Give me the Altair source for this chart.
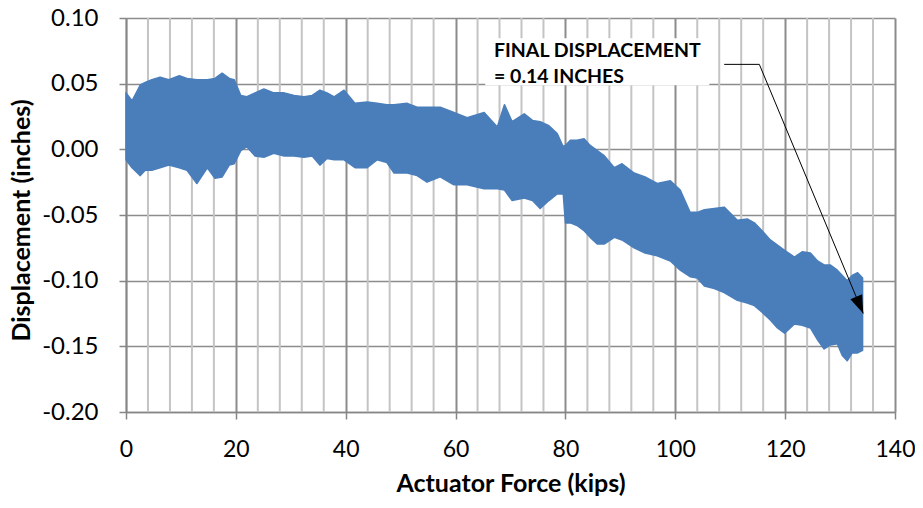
import altair as alt
import pandas as pd

# ---- data ----
KIPS = [0.0, 1.1, 2.6, 3.5, 4.7, 6.2, 7.8, 9.7, 11.1, 12.9,
        14.8, 16.2, 17.5, 18.8, 19.7, 20.9, 22.0, 23.5, 25.1, 26.9,
        28.8, 30.6, 32.4, 33.9, 35.3, 36.6, 37.9, 39.7, 41.7, 43.9,
        45.7, 47.5, 48.8, 51.2, 53.0, 54.8, 57.2, 59.7, 62.1, 65.2,
        67.6, 68.9, 70.3, 72.5, 74.0, 75.4, 77.0, 78.5, 79.6, 80.0,
        80.9, 82.1, 83.4, 84.5, 85.8, 87.1, 88.9, 90.3, 92.5, 94.5,
        96.7, 99.1, 100.9, 102.7, 104.0, 105.3, 107.1, 108.9, 111.3, 113.1,
        114.4, 115.8, 117.3, 118.6, 119.9, 121.7, 123.1, 124.6, 125.9, 127.1,
        128.2, 129.5, 130.4, 131.3, 132.2, 133.2, 134.1]
UPPER = [0.043, 0.037, 0.049, 0.051, 0.053, 0.055, 0.053, 0.056, 0.054, 0.053,
         0.053, 0.054, 0.058, 0.054, 0.053, 0.041, 0.040, 0.043, 0.046, 0.043,
         0.043, 0.041, 0.040, 0.041, 0.045, 0.043, 0.040, 0.045, 0.035, 0.036,
         0.035, 0.034, 0.034, 0.035, 0.032, 0.032, 0.032, 0.028, 0.024, 0.028,
         0.017, 0.034, 0.021, 0.027, 0.022, 0.021, 0.018, 0.012, 0.002, 0.003,
         0.007, 0.007, 0.008, 0.003, -0.001, -0.005, -0.014, -0.011, -0.018, -0.021,
         -0.026, -0.024, -0.031, -0.048, -0.048, -0.046, -0.045, -0.044, -0.054, -0.053,
         -0.056, -0.062, -0.069, -0.073, -0.077, -0.082, -0.078, -0.079, -0.085, -0.088,
         -0.088, -0.092, -0.096, -0.100, -0.096, -0.094, -0.098]
LOWER = [-0.008, -0.014, -0.020, -0.016, -0.016, -0.014, -0.012, -0.014, -0.016, -0.026,
         -0.014, -0.022, -0.021, -0.012, -0.011, -0.001, 0.002, -0.005, -0.006, -0.003,
         -0.005, -0.005, -0.006, -0.005, -0.012, -0.007, -0.008, -0.008, -0.014, -0.014,
         -0.008, -0.010, -0.018, -0.018, -0.020, -0.025, -0.021, -0.027, -0.027, -0.030,
         -0.030, -0.031, -0.039, -0.037, -0.039, -0.045, -0.039, -0.034, -0.034, -0.056,
         -0.056, -0.058, -0.062, -0.067, -0.072, -0.072, -0.067, -0.069, -0.075, -0.079,
         -0.081, -0.085, -0.092, -0.097, -0.098, -0.104, -0.106, -0.109, -0.115, -0.117,
         -0.119, -0.124, -0.130, -0.136, -0.140, -0.133, -0.134, -0.136, -0.145, -0.152,
         -0.149, -0.148, -0.157, -0.161, -0.155, -0.155, -0.153]

X_TICKS = [0, 20, 40, 60, 80, 100, 120, 140]
X_MINOR = [4, 8, 12, 16, 24, 28, 32, 36, 44, 48, 52, 56, 64, 68, 72, 76,
           84, 88, 92, 96, 104, 108, 112, 116, 124, 128, 132, 136]
Y_TICKS = [-0.20, -0.15, -0.10, -0.05, 0.00, 0.05, 0.10]

NOTE_LINES = ["FINAL DISPLACEMENT", "= 0.14 INCHES"]
NOTE_X = [67.0, 67.0]
NOTE_Y = [0.070, 0.0503]
NOTE_BOX = {"x": 65.4, "x2": 106.2, "y": 0.0845, "y2": 0.0488}
LEADER_X = [108.9, 115.3, 134.2]
LEADER_Y = [0.0647, 0.0647, -0.125]
ARROW_AT = {"x": 133.4, "y": -0.1168}

BLUE = "#4a7ebb"
FONT = "Lato"

band = pd.DataFrame({"kips": KIPS, "upper": UPPER, "lower": LOWER})
minor = pd.DataFrame({"x": X_MINOR})
notes = pd.DataFrame({"x": NOTE_X, "y": NOTE_Y, "t": NOTE_LINES})
box = pd.DataFrame([NOTE_BOX])
leader = pd.DataFrame({"x": LEADER_X, "y": LEADER_Y, "o": list(range(len(LEADER_X)))})
arrow = pd.DataFrame([ARROW_AT])

xs = alt.Scale(domain=[0, 140], nice=False, zero=False)
ys = alt.Scale(domain=[-0.2, 0.1], nice=False, zero=False)

xaxis = alt.Axis(values=X_TICKS, title="Actuator Force (kips)", grid=True,
                 gridColor="#8c8c8c", gridWidth=2, domainColor="#868686", domainWidth=1.5,
                 tickColor="#868686", tickWidth=1.5, tickSize=7, labelPadding=19,
                 labelFlush=False, labelOverlap=False,
                 labelFont=FONT, labelFontSize=23, labelColor="black",
                 titleFont=FONT, titleFontSize=25, titleFontWeight="bold", titleColor="black",
                 titlePadding=10)
yaxis = alt.Axis(values=Y_TICKS, title="Displacement (inches)", grid=True,
                 gridColor="#8c8c8c", gridWidth=1.5, domainColor="#868686", domainWidth=1.5,
                 tickColor="#868686", tickWidth=1.5, tickSize=7, labelPadding=21,
                 labelFlush=False, labelOverlap=False,
                 labelExpr="replace(format(datum.value, '.2f'), '\u2212', '-')",
                 labelFont=FONT, labelFontSize=24, labelColor="black",
                 titleFont=FONT, titleFontSize=25, titleFontWeight="bold", titleColor="black",
                 titlePadding=7, titleY=202)


def X(field):
    return alt.X(field, type="quantitative", scale=xs, axis=xaxis)


def Y(field):
    return alt.Y(field, type="quantitative", scale=ys, axis=yaxis)


minor_layer = alt.Chart(minor).mark_rule(color="#c4c4c4", strokeWidth=2).encode(x=X("x"))

band_layer = alt.Chart(band).mark_area(color=BLUE, stroke=BLUE, strokeWidth=1.5,
                                        strokeJoin="round", opacity=1).encode(
    x=X("kips"), y=Y("upper"), y2="lower:Q")

box_layer = alt.Chart(box).mark_rect(color="white").encode(
    x=X("x"), x2="x2:Q", y=Y("y"), y2="y2:Q")

note_layer = alt.Chart(notes).mark_text(align="left", baseline="alphabetic", font=FONT,
                                         fontWeight="bold", fontSize=19.5, color="black").encode(
    x=X("x"), y=Y("y"), text="t:N")

leader_layer = alt.Chart(leader).mark_line(color="black", strokeWidth=1).encode(
    x=X("x"), y=Y("y"), order="o:Q")

arrow_layer = alt.Chart(arrow).mark_point(shape="M0,1L-0.55,-0.55L0.55,-0.55Z", filled=True,
                                           color="black", opacity=1, size=538, angle=337,
                                           strokeWidth=0).encode(x=X("x"), y=Y("y"))

chart = alt.layer(minor_layer, band_layer, box_layer, note_layer, leader_layer, arrow_layer).properties(
    width=769, height=394,
    autosize=alt.AutoSizeParams(type="none"),
    padding={"left": 118, "top": 10, "right": 20, "bottom": 88},
    background="white",
).configure_view(stroke=None)

chart.save("out.html", embed_options={"renderer": "svg", "actions": False})
